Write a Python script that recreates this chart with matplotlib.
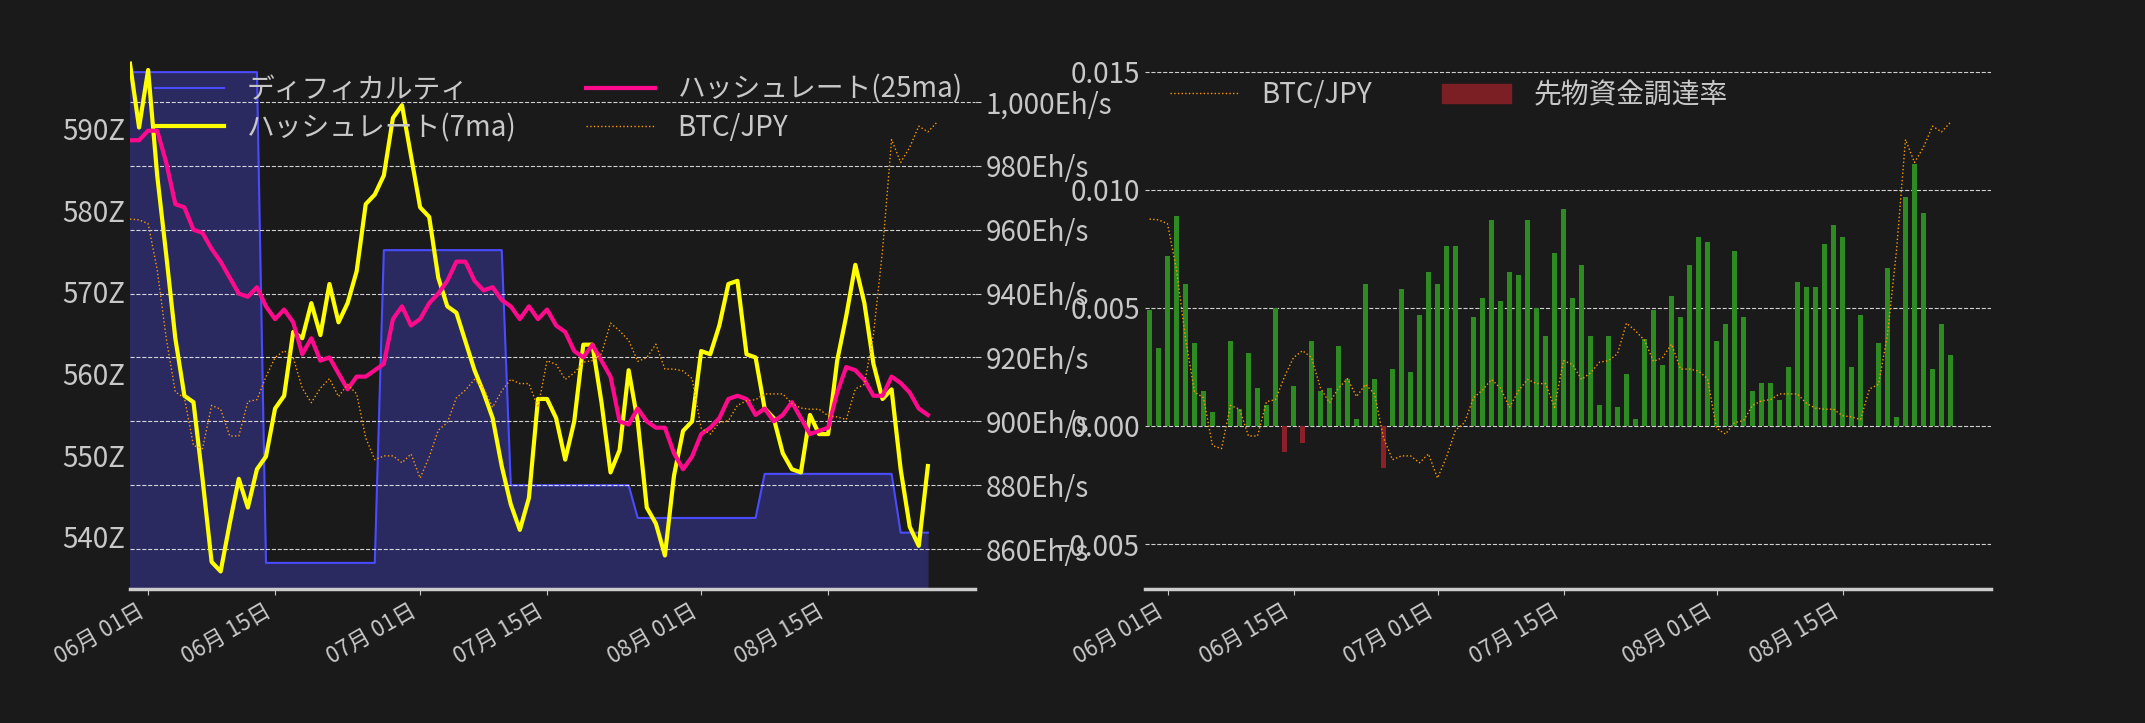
import matplotlib
matplotlib.use("Agg")
import matplotlib.pyplot as plt
import matplotlib.dates as mdates
import numpy as np
import pandas as pd
from matplotlib.patches import Patch
from matplotlib.ticker import FuncFormatter, FixedLocator

plt.rcParams['font.family'] = ['Noto Sans CJK JP', 'DejaVu Sans']

start = "2024-05-30"
n_days = 90
dates = pd.date_range(start, periods=n_days, freq="D")

difficulty = [596.9]*15 + [536.8]*13 + [575.1]*14 + [546.3]*14 + [542.3]*14 + [547.7]*15 + [540.5]*4

hash_7ma = [1012, 992, 1010, 977, 952, 926, 908, 906, 882, 856, 853, 868, 882, 873, 885, 889, 904, 908,
            928, 926, 937, 927, 943, 931, 937, 947, 968, 971, 977, 995, 999, 983, 967, 964, 945, 936,
            934, 925, 916, 909, 901, 886, 874, 866, 876, 907, 907, 901, 888, 900, 924, 924, 906, 884,
            891, 916, 900, 873, 868, 858, 883, 897, 900, 922, 921, 930, 943, 944, 921, 920, 904, 901,
            890, 885, 884, 902, 896, 896, 919, 933, 949, 937, 918, 907, 910, 885, 867, 861, 886]

hash_25ma = [988, 988, 991, 991, 981, 968, 967, 960, 959, 954, 950, 945, 940, 939, 942, 936, 932, 935,
             931, 921, 926, 919, 920, 915, 910, 914, 914, 916, 918, 932, 936, 930, 932, 937, 940, 944,
             950, 950, 944, 941, 942, 938, 936, 932, 936, 932, 935, 930, 928, 922, 920, 924, 919, 914,
             900, 899, 904, 900, 898, 898, 890, 885, 889, 896, 898, 901, 907, 908, 907, 902, 904, 900,
             902, 906, 901, 896, 897, 898, 909, 917, 916, 913, 908, 908, 914, 912, 909, 904, 902]

btc_jpy = [1338.5, 1337.5, 1332.5, 1272.5, 1182.5, 1112.5, 1105, 1042.5, 1038.5, 1095, 1090, 1055, 1055,
           1100, 1102.5, 1132.5, 1157.5, 1166.5, 1157.5, 1117.5, 1098.5, 1117.5, 1130, 1106.5, 1122.5,
           1110, 1052.5, 1024, 1029, 1029, 1020, 1031.5, 1000, 1027.5, 1062.5, 1072.5, 1105, 1115, 1129,
           1117.5, 1092.5, 1114, 1129, 1123.5, 1123.5, 1092.5, 1153.5, 1148.5, 1129, 1137.5, 1151.5,
           1153.5, 1162.5, 1202.5, 1192.5, 1180, 1152.5, 1157.5, 1175, 1142.5, 1142.5, 1140, 1130, 1065,
           1057.5, 1072.5, 1075, 1095, 1101, 1102.5, 1110, 1110, 1110, 1097.5, 1091.5, 1090, 1090,
           1081.5, 1080, 1076.5, 1116.5, 1122.5, 1187.5, 1297.5, 1442.5, 1412.5, 1432.5, 1460, 1452.5, 1465]

funding = [0.0049, 0.0033, 0.0072, 0.0089, 0.0060, 0.0035, 0.0015, 0.0006, 0.0000, 0.0036, 0.0007, 0.0031,
           0.0016, 0.0009, 0.0050, -0.0011, 0.0017, -0.0007, 0.0036, 0.0015, 0.0016, 0.0034, 0.0020, 0.0003,
           0.0060, 0.0020, -0.0018, 0.0024, 0.0058, 0.0023, 0.0047, 0.0065, 0.0060, 0.0076, 0.0076, 0.0000,
           0.0046, 0.0054, 0.0087, 0.0053, 0.0065, 0.0064, 0.0087, 0.0050, 0.0038, 0.0073, 0.0092, 0.0054,
           0.0068, 0.0038, 0.0009, 0.0038, 0.0008, 0.0022, 0.0003, 0.0037, 0.0049, 0.0026, 0.0055, 0.0046,
           0.0068, 0.0080, 0.0078, 0.0036, 0.0043, 0.0074, 0.0046, 0.0015, 0.0018, 0.0018, 0.0011, 0.0025,
           0.0061, 0.0059, 0.0059, 0.0077, 0.0085, 0.0080, 0.0025, 0.0047, 0.0000, 0.0035, 0.0067, 0.0004,
           0.0097, 0.0111, 0.0090, 0.0024, 0.0043, 0.0030]

BG = "#1a1a1a"
TXT = "#c8c8c8"
fig = plt.figure(figsize=(21.45, 7.23), dpi=100, facecolor=BG)

W, H = 2145, 723
def rect(x0, x1, y0, y1):
    return [x0 / W, (H - y1) / H, (x1 - x0) / W, (y1 - y0) / H]

ticks = [pd.Timestamp(d) for d in ["2024-06-01", "2024-06-15", "2024-07-01", "2024-07-15", "2024-08-01", "2024-08-15"]]
fmt = mdates.DateFormatter("%m月 %d日")

def style_x(ax):
    ax.set_facecolor(BG)
    ax.xaxis.set_major_locator(FixedLocator(mdates.date2num(ticks)))
    ax.xaxis.set_major_formatter(fmt)
    for lab in ax.get_xticklabels():
        lab.set_rotation(30); lab.set_ha("right")
    ax.tick_params(axis="x", colors=TXT, labelsize=16, length=4)
    for s in ["top", "left", "right"]:
        ax.spines[s].set_visible(False)
    ax.spines["bottom"].set_color("#cccccc")
    ax.spines["bottom"].set_linewidth(2.5)

# ---------- left chart ----------
axL = fig.add_axes(rect(130, 975, 55, 589))
d_h = dates[:len(hash_7ma)]
axL.fill_between(dates[:len(difficulty)], difficulty, 500, color="#2a2a60", zorder=1)
l_diff, = axL.plot(dates[:len(difficulty)], difficulty, color="#4a4aff", lw=1.5, label="ディフィカルティ", zorder=2)
axL.set_ylim(533.6, 599)
axL.set_yticks([540, 550, 560, 570, 580, 590])
axL.yaxis.set_major_formatter(FuncFormatter(lambda v, p: f"{int(v)}Z"))
axL.tick_params(axis="y", colors=TXT, labelsize=20, length=0)
axL.set_xlim(dates[0], dates[0] + pd.Timedelta(days=93.2))
style_x(axL)

axE = axL.twinx()
axE.set_ylim(847.5, 1014.7)
axE.set_yticks(range(860, 1001, 20))
axE.yaxis.set_major_formatter(FuncFormatter(lambda v, p: f"{int(v):,}Eh/s"))
axE.tick_params(axis="y", colors=TXT, labelsize=20, length=4)
axE.grid(axis="y", color="white", ls="--", lw=0.8, alpha=0.8)
for s in ["top", "left", "right", "bottom"]:
    axE.spines[s].set_visible(False)
l7, = axE.plot(d_h, hash_7ma, color="#ffff00", lw=3, label="ハッシュレート(7ma)", zorder=3)
l25, = axE.plot(dates[:len(hash_25ma)], hash_25ma, color="#ff0a8c", lw=3, label="ハッシュレート(25ma)", zorder=4)

axB = axL.twinx()
axB.set_ylim(855, 1553)
axB.axis("off")
lb, = axB.plot(dates, btc_jpy, color="#ff9900", lw=1, ls=":", label="BTC/JPY")

axB.legend(handles=[l_diff, l7, l25, lb], loc="upper left", ncol=2, frameon=False,
           fontsize=20, labelcolor=TXT, bbox_to_anchor=(0.0, 1.01), columnspacing=2.5, handlelength=2.5,
           labelspacing=0.3)

# ---------- right chart ----------
axR = fig.add_axes(rect(1145, 1991, 55, 589))
fvals = np.array(funding)
colors = np.where(fvals >= 0, "#2e8b22", "#8b2028")
axR.bar(dates[:len(funding)], fvals, width=0.5, color=colors, zorder=2)
axR.set_ylim(-0.0069, 0.0157)
axR.set_xlim(dates[0] - pd.Timedelta(days=0.5), dates[0] + pd.Timedelta(days=93.5))
axR.yaxis.tick_right()
axR.set_yticks([-0.005, 0.0, 0.005, 0.010, 0.015])
axR.yaxis.set_major_formatter(FuncFormatter(lambda v, p: f"{v:.3f}".replace("-", "−")))
axR.tick_params(axis="y", colors=TXT, labelsize=20, length=0)
axR.grid(axis="y", color="white", ls="--", lw=0.8, alpha=0.8)
style_x(axR)

axRB = axR.twinx()
axRB.set_ylim(855, 1553)
axRB.axis("off")
lb2, = axRB.plot(dates, btc_jpy, color="#ff9900", lw=1, ls=":", label="BTC/JPY")
axRB.legend(handles=[lb2, Patch(color="#7b1f24", label="先物資金調達率")], loc="upper left", ncol=2,
            frameon=False, fontsize=20, labelcolor=TXT, bbox_to_anchor=(0.0, 1.0), columnspacing=2.5, handlelength=2.5)

fig.savefig("out.png", dpi=100, facecolor=BG)
